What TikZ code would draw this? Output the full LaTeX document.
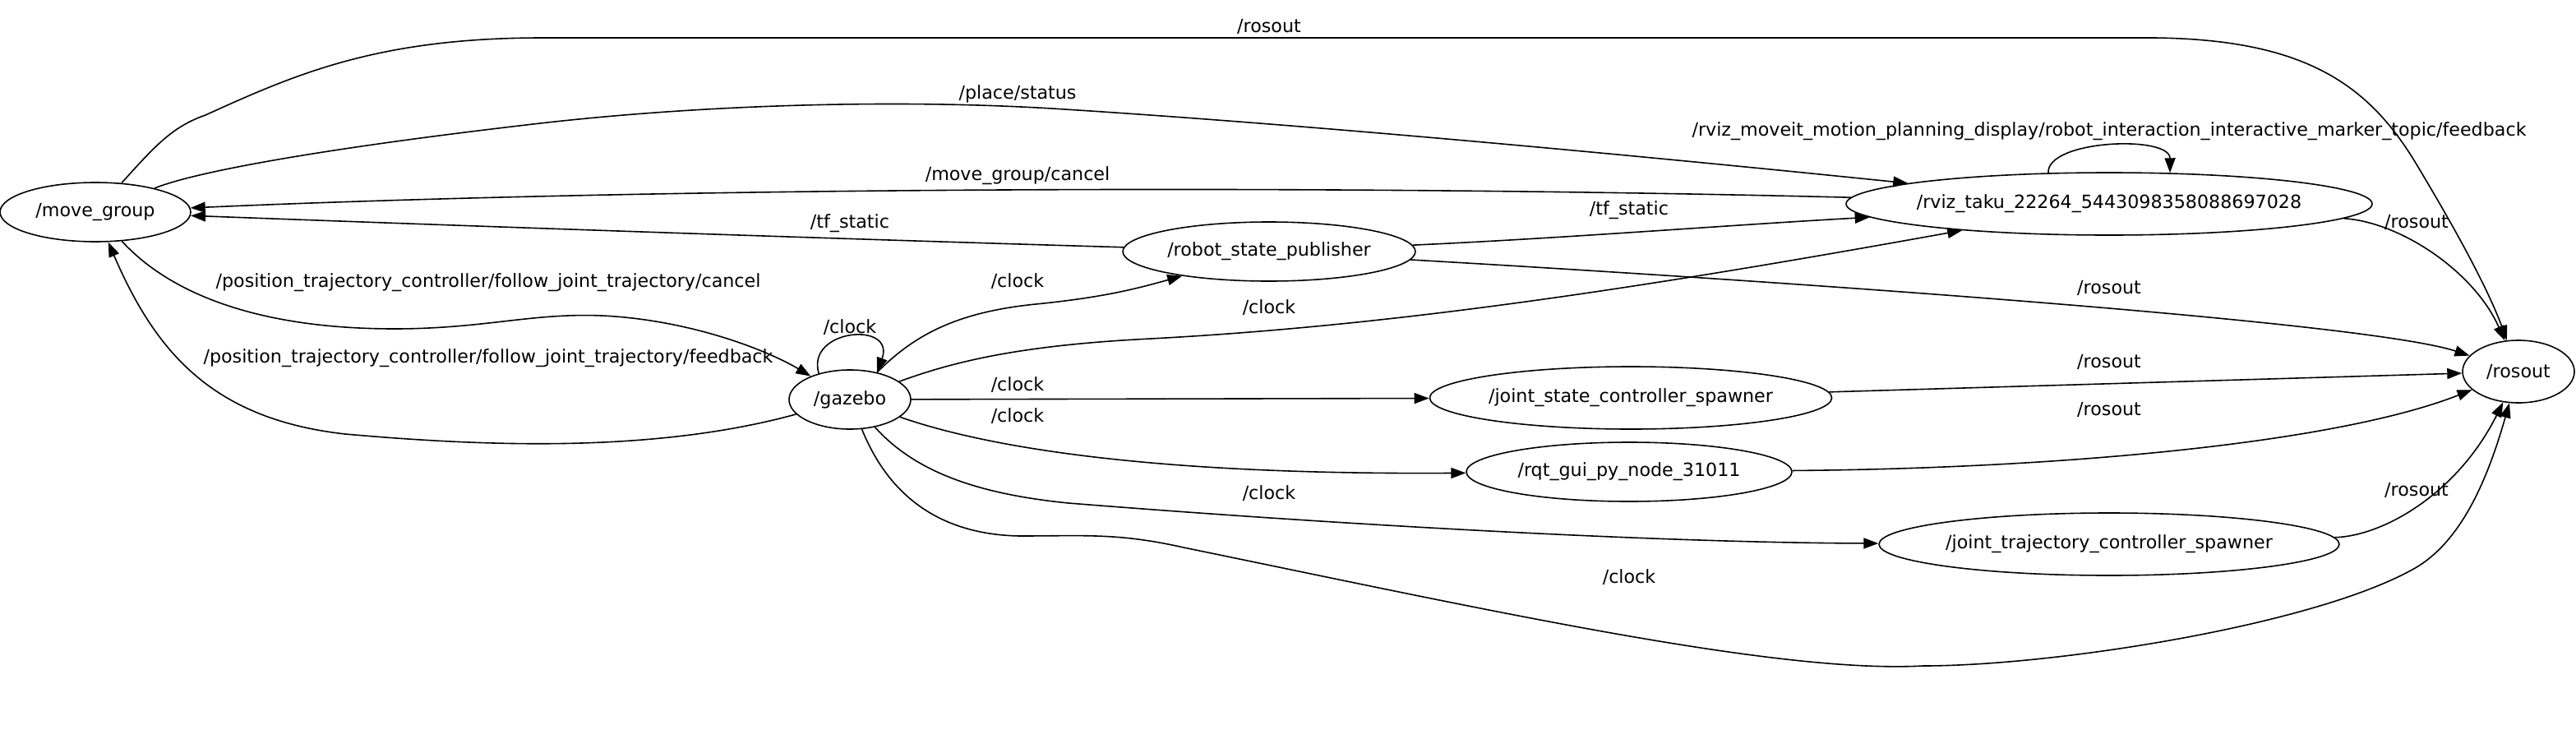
\documentclass[tikz,border=0pt]{standalone}
\usepackage{fontspec}
\setmainfont{DejaVu Sans}
\usepackage{tikz}
\usetikzlibrary{shapes.geometric,arrows.meta}
\newcommand{\topic}[4]{\draw[pub] (#1) -- (#2) node at (#3) {#4};}

\begin{document}
\begin{tikzpicture}[x=1pt,y=-1pt,font=\fontsize{11.1}{13}\selectfont,
		rosnode/.style={draw,ellipse,line width=0.8pt,inner sep=0pt,minimum height=36pt},
		pub/.style={line width=0.8pt,-{Triangle[length=9pt,width=6.5pt]}}]
		\useasboundingbox (0,0) rectangle (1567,458);
		\node[rosnode,minimum width=116pt](movegroup) at (58,129) {/move\_group};
		\node[rosnode,minimum width=74pt](gazebo) at (517,243) {/gazebo};
		\node[rosnode,minimum width=178pt](rsp) at (772,153) {/robot\_state\_publisher};
		\node[rosnode,minimum width=320pt,minimum height=38pt,inner xsep=-4pt](rviz) at (1283,124) {/rviz\_taku\_22264\_5443098358088697028};
		\node[rosnode,minimum width=244pt,minimum height=38pt](jsc) at (992,242) {/joint\_state\_controller\_spawner};
		\node[rosnode,minimum width=198pt](rqt) at (991,287) {/rqt\_gui\_py\_node\_31011};
		\node[rosnode,minimum width=280pt,minimum height=38pt,inner xsep=-2pt](jtc) at (1283,331) {/joint\_trajectory\_controller\_spawner};
		\node[rosnode,minimum width=68pt,minimum height=38pt](rosout) at (1532,226) {/rosout};

		% move_group
		\draw[pub] (movegroup) .. controls (95,88) and (105,77) .. (125,70) .. controls (180,45) and (230,23) .. (330,23) -- (1300,23) .. controls (1400,22) and (1440,50) .. (1470,100) .. controls (1500,150) and (1515,180) .. (rosout) node at (772,16) {/rosout};
		\draw[pub] (movegroup) .. controls (120,104) and (200,90) .. (320,76) .. controls (420,64) and (540,60) .. (640,66) .. controls (800,76) and (1000,95) .. (rviz) node at (619,57) {/place/status};
		\draw[pub] (movegroup) .. controls (100,175) and (150,200) .. (240,200) .. controls (300,200) and (330,188) .. (380,193) .. controls (430,198) and (470,215) .. (gazebo) node at (297,172) {/position\_trajectory\_controller/follow\_joint\_trajectory/cancel};

		% rviz
		\draw[pub] (rviz) .. controls (800,112) and (400,114) .. (movegroup) node at (619,107) {/move\_group/cancel};
		\draw[pub] (rviz.153) .. controls (1245,85) and (1320,82) .. (rviz.27) node at (1283,80) {/rviz\_moveit\_motion\_planning\_display/robot\_interaction\_interactive\_marker\_topic/feedback};
		\draw[pub] (rviz) .. controls (1460,135) and (1505,165) .. (rosout) node at (1470,135) {/rosout};

		% robot_state_publisher
		\draw[pub] (rsp) .. controls (500,145) and (300,138) .. (movegroup) node at (517,136) {/tf\_static};
		\draw[pub] (rsp) .. controls (950,145) and (1050,137) .. (rviz) node at (991,128) {/tf\_static};
		\draw[pub] (rsp) .. controls (1100,172) and (1440,196) .. (rosout) node at (1283,175) {/rosout};

		% gazebo
		\draw[pub] (gazebo) .. controls (400,275) and (300,272) .. (210,264) .. controls (130,255) and (95,215) .. (movegroup) node at (297,218) {/position\_trajectory\_controller/follow\_joint\_trajectory/feedback};
		\draw[pub] (gazebo.140) .. controls (490,200) and (545,195) .. (gazebo.45) node at (517,199) {/clock};
		\draw[pub] (gazebo) .. controls (555,205) and (580,190) .. (630,185) .. controls (670,181) and (690,176) .. (rsp) node at (619,171) {/clock};
		\draw[pub] (gazebo) .. controls (580,220) and (620,210) .. (700,206) .. controls (850,198) and (1000,175) .. (rviz) node at (772,187) {/clock};
		\topic{gazebo}{jsc}{619,234}{/clock}
		\draw[pub] (gazebo) .. controls (600,272) and (700,289) .. (rqt) node at (619,253) {/clock};
		\draw[pub] (gazebo) .. controls (555,285) and (590,300) .. (650,306) .. controls (800,318) and (1000,330) .. (jtc) node at (772,300) {/clock};
		\draw[pub] (gazebo) .. controls (540,300) and (570,325) .. (620,326) .. controls (660,326) and (680,324) .. (720,333) .. controls (900,370) and (1080,410) .. (1170,405) .. controls (1250,405) and (1410,380) .. (1470,345) .. controls (1500,327) and (1515,285) .. (rosout) node at (991,351) {/clock};

		% spawners and rqt
		\topic{jsc}{rosout}{1283,220}{/rosout}
		\draw[pub] (rqt) .. controls (1250,285) and (1420,270) .. (rosout) node at (1283,249) {/rosout};
		\draw[pub] (jtc) .. controls (1450,326) and (1495,300) .. (rosout) node at (1470,298) {/rosout};
	\end{tikzpicture}
\end{document}
